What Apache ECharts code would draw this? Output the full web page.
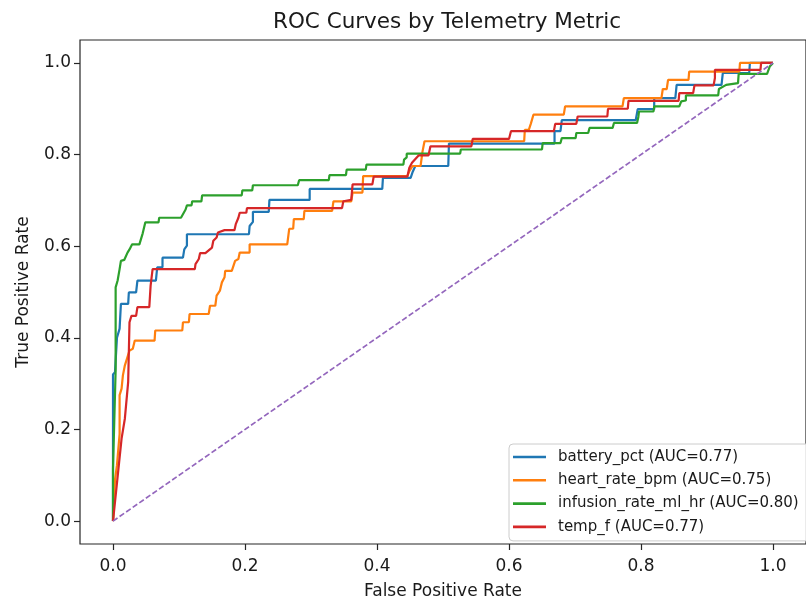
<!DOCTYPE html>
<html>
<head>
<meta charset="utf-8">
<script src="https://cdn.jsdelivr.net/npm/echarts@6/dist/echarts.min.js"></script>
<style>
  html, body { margin: 0; padding: 0; background: #ffffff; }
  #chart { width: 806px; height: 605px; }
</style>
</head>
<body>
<div id="chart"></div>
<script>
// ---- data (FPR, TPR) ----
const seriesNames = [
  'battery_pct (AUC=0.77)',
  'heart_rate_bpm (AUC=0.75)',
  'infusion_rate_ml_hr (AUC=0.80)',
  'temp_f (AUC=0.77)'
];
const seriesColors = ['#1f77b4', '#ff7f0e', '#2ca02c', '#d62728'];

const batteryRoc = [[0,0],[0,0.32],[0.003,0.325],[0.006,0.40],[0.008,0.402],[0.010,0.42],[0.012,0.474],[0.023,0.474],[0.024,0.499],[0.035,0.499],[0.037,0.525],[0.065,0.525],[0.067,0.554],[0.075,0.554],[0.075,0.575],[0.106,0.575],[0.108,0.593],[0.112,0.601],[0.112,0.626],[0.206,0.626],[0.207,0.644],[0.212,0.653],[0.212,0.675],[0.236,0.675],[0.237,0.701],[0.298,0.701],[0.298,0.725],[0.408,0.725],[0.409,0.749],[0.451,0.749],[0.454,0.762],[0.458,0.775],[0.508,0.775],[0.509,0.824],[0.669,0.824],[0.669,0.851],[0.678,0.851],[0.680,0.875],[0.792,0.875],[0.795,0.899],[0.820,0.899],[0.820,0.923],[0.852,0.923],[0.854,0.952],[0.922,0.952],[0.924,0.978],[0.964,0.978],[0.965,1.0],[1,1]];

const heartRoc = [[0,0],[0.003,0.09],[0.006,0.122],[0.010,0.19],[0.010,0.275],[0.013,0.289],[0.015,0.318],[0.018,0.340],[0.025,0.372],[0.030,0.376],[0.033,0.394],[0.063,0.394],[0.064,0.416],[0.105,0.416],[0.106,0.434],[0.115,0.434],[0.116,0.452],[0.145,0.452],[0.147,0.470],[0.155,0.470],[0.157,0.492],[0.162,0.503],[0.165,0.521],[0.169,0.532],[0.170,0.546],[0.180,0.546],[0.185,0.568],[0.190,0.572],[0.192,0.586],[0.207,0.586],[0.207,0.604],[0.264,0.604],[0.267,0.638],[0.273,0.638],[0.274,0.659],[0.289,0.659],[0.290,0.677],[0.332,0.677],[0.334,0.698],[0.361,0.698],[0.363,0.717],[0.378,0.717],[0.379,0.753],[0.446,0.753],[0.449,0.764],[0.454,0.775],[0.466,0.775],[0.469,0.807],[0.472,0.829],[0.623,0.829],[0.624,0.854],[0.630,0.854],[0.633,0.867],[0.637,0.887],[0.683,0.887],[0.685,0.905],[0.772,0.905],[0.774,0.923],[0.831,0.923],[0.833,0.943],[0.839,0.943],[0.841,0.963],[0.872,0.963],[0.873,0.981],[0.949,0.981],[0.950,1.0],[1,1]];

const infusionRoc = [[0,0],[0,0.115],[0.003,0.115],[0.004,0.33],[0.004,0.51],[0.007,0.525],[0.010,0.55],[0.012,0.568],[0.017,0.570],[0.022,0.586],[0.025,0.593],[0.029,0.604],[0.040,0.604],[0.045,0.628],[0.049,0.652],[0.069,0.652],[0.070,0.662],[0.103,0.662],[0.110,0.680],[0.112,0.689],[0.119,0.689],[0.120,0.698],[0.134,0.698],[0.135,0.711],[0.195,0.711],[0.196,0.722],[0.211,0.722],[0.212,0.733],[0.280,0.733],[0.282,0.744],[0.327,0.744],[0.328,0.755],[0.353,0.755],[0.354,0.767],[0.383,0.767],[0.384,0.778],[0.440,0.778],[0.441,0.789],[0.445,0.794],[0.445,0.802],[0.526,0.802],[0.527,0.811],[0.650,0.811],[0.651,0.825],[0.678,0.825],[0.680,0.836],[0.701,0.836],[0.702,0.847],[0.720,0.847],[0.722,0.858],[0.757,0.858],[0.759,0.869],[0.794,0.869],[0.796,0.882],[0.797,0.894],[0.819,0.894],[0.820,0.905],[0.858,0.905],[0.861,0.916],[0.868,0.918],[0.868,0.929],[0.917,0.929],[0.918,0.943],[0.929,0.952],[0.947,0.956],[0.948,0.976],[0.991,0.976],[0.995,0.992],[1,1]];

const tempRoc = [[0,0],[0.013,0.18],[0.015,0.18],[0.018,0.224],[0.023,0.304],[0.025,0.434],[0.028,0.448],[0.035,0.448],[0.037,0.467],[0.055,0.467],[0.057,0.514],[0.060,0.550],[0.124,0.550],[0.125,0.561],[0.130,0.572],[0.132,0.585],[0.140,0.585],[0.150,0.597],[0.152,0.612],[0.157,0.619],[0.159,0.630],[0.169,0.635],[0.184,0.635],[0.186,0.648],[0.190,0.662],[0.192,0.673],[0.202,0.673],[0.203,0.683],[0.347,0.683],[0.349,0.698],[0.361,0.701],[0.363,0.735],[0.393,0.735],[0.395,0.752],[0.446,0.752],[0.449,0.771],[0.453,0.782],[0.463,0.798],[0.478,0.798],[0.481,0.818],[0.543,0.818],[0.545,0.834],[0.600,0.834],[0.603,0.851],[0.668,0.851],[0.670,0.867],[0.702,0.867],[0.704,0.883],[0.749,0.883],[0.750,0.900],[0.780,0.900],[0.781,0.917],[0.857,0.917],[0.858,0.934],[0.879,0.934],[0.881,0.951],[0.910,0.951],[0.912,0.967],[0.912,0.985],[0.981,0.985],[0.982,1.0],[1,1]];

const chanceLine = [[0,0],[1,1]];
const tickValues = [0, 0.2, 0.4, 0.6, 0.8, 1.0];
const titleText = 'ROC Curves by Telemetry Metric';
const xAxisName = 'False Positive Rate';
const yAxisName = 'True Positive Rate';

const rocData = [batteryRoc, heartRoc, infusionRoc, tempRoc];
const FONT = 'DejaVu Sans';

const series = rocData.map((d, i) => ({
  name: seriesNames[i],
  type: 'line',
  data: d,
  symbol: 'none',
  showSymbol: false,
  color: seriesColors[i],
  lineStyle: { width: 2.2, color: seriesColors[i] },
  z: 2 + i
}));
series.push({
  name: 'chance',
  type: 'line',
  data: chanceLine,
  symbol: 'none',
  showSymbol: false,
  color: '#9467bd',
  lineStyle: { width: 1.7, color: '#9467bd', type: [5.5, 2.5] },
  z: 10
});

const chart = echarts.init(document.getElementById('chart'), null, { renderer: 'canvas' });
chart.setOption({
  animation: false,
  backgroundColor: '#ffffff',
  textStyle: { fontFamily: FONT },
  title: {
    text: titleText,
    left: 442,
    top: 6,
    textAlign: 'center',
    textStyle: { fontFamily: FONT, fontSize: 21.5, fontWeight: 'normal', color: '#1a1a1a' }
  },
  grid: {
    left: 80, top: 40, width: 736, height: 506,
    show: true, borderColor: '#262626', borderWidth: 1.2, backgroundColor: 'transparent',
    containLabel: false
  },
  legend: {
    orient: 'vertical',
    left: 509, top: 444,
    padding: [5, 12, 6, 4],
    itemWidth: 33, itemHeight: 2.6,
    itemGap: 7.3,
    icon: 'rect',
    data: seriesNames,
    backgroundColor: 'rgba(255,255,255,0.85)',
    borderColor: '#cccccc', borderWidth: 1, borderRadius: 4,
    textStyle: { fontFamily: FONT, fontSize: 15, color: '#1a1a1a', lineHeight: 16, padding: [0, 0, 0, 7] }
  },
  xAxis: {
    type: 'value', min: -0.05, max: 1.05,
    name: xAxisName, nameLocation: 'middle', nameGap: 39,
    nameTextStyle: { fontFamily: FONT, fontSize: 17, color: '#1a1a1a' },
    axisLine: { show: false, onZero: false },
    axisTick: { show: true, customValues: tickValues, length: 6, lineStyle: { color: '#262626', width: 1.2 } },
    axisLabel: { customValues: tickValues, margin: 14, fontFamily: FONT, fontSize: 17, color: '#1a1a1a',
      formatter: v => Number(v).toFixed(1) },
    splitLine: { show: false }
  },
  yAxis: {
    type: 'value', min: -0.05, max: 1.05,
    name: yAxisName, nameLocation: 'middle', nameGap: 48, nameRotate: 90,
    nameTextStyle: { fontFamily: FONT, fontSize: 17, color: '#1a1a1a' },
    axisLine: { show: false, onZero: false },
    axisTick: { show: true, customValues: tickValues, length: 6, lineStyle: { color: '#262626', width: 1.2 } },
    axisLabel: { customValues: tickValues, margin: 9, fontFamily: FONT, fontSize: 17, color: '#1a1a1a',
      formatter: v => Number(v).toFixed(1) },
    splitLine: { show: false }
  },
  series: series
});
</script>
</body>
</html>
